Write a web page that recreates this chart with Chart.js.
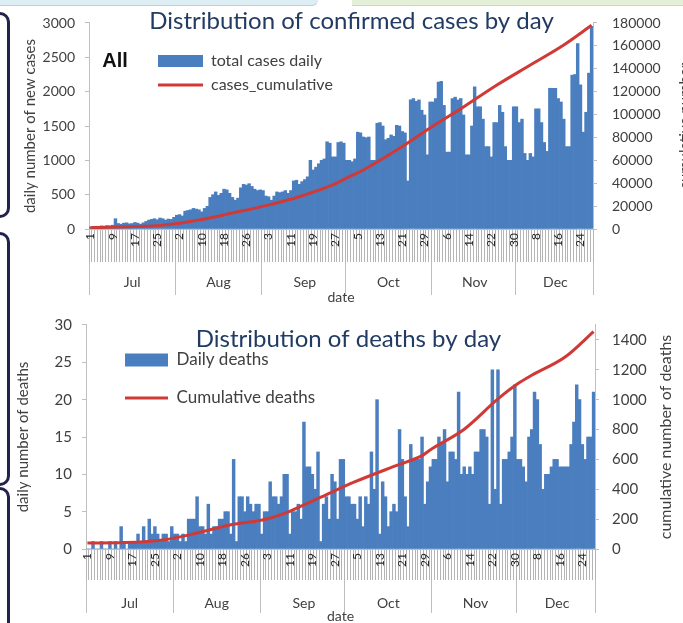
<!DOCTYPE html>
<html>
<head>
<meta charset="utf-8">
<script src="https://cdn.jsdelivr.net/npm/chart.js@4.4.0/dist/chart.umd.min.js"></script>
<style>
html, body { margin: 0; padding: 0; background: #fff; overflow: hidden; }
body { width: 683px; height: 623px; position: relative; }
.box { position: absolute; left: 0; width: 683px; }
#topBox { top: 0; height: 306px; }
#bottomBox { top: 310px; height: 315px; }
.brace { position: absolute; left: -22px; width: 26px; border: 3px solid #22234a; border-radius: 10px; }
.band { position: absolute; top: 0; height: 5px; }
</style>
</head>
<body>
<div class="band" style="left:0;width:318px;background:#dcedf3;border-bottom:1px solid #b9d3de;border-bottom-right-radius:6px"></div>
<div class="band" style="left:352px;width:331px;background:#e4f0d8;border-bottom:1px solid #c8dcb5"></div>
<div class="brace" style="top:12px;height:200px"></div>
<div class="brace" style="top:232px;height:248px"></div>
<div class="brace" style="top:487px;height:200px"></div>
<div class="box" id="topBox"><canvas id="casesChart"></canvas></div>
<div class="box" id="bottomBox"><canvas id="deathsChart"></canvas></div>
<script>
// months on the axis (data runs 1 Jul - 28 Dec)
const months = ['Jul', 'Aug', 'Sep', 'Oct', 'Nov', 'Dec'];
const monthLengths = [31, 31, 30, 31, 30, 28];

// daily new cases, one value per day
const dailyCases = [
    // Jul
    30, 35, 40, 30, 45, 40, 50, 45, 55, 150, 80, 70, 85, 90, 75, 80, 95, 85, 70, 90, 110,
    130, 140, 150, 135, 160, 150, 130, 145, 140, 170,
    // Aug
    200, 210, 190, 260, 270, 280, 300, 290, 280, 250, 300, 330, 460, 500, 540, 490, 520, 580,
    570, 520, 460, 420, 450, 600, 650, 640, 660, 620, 580, 560, 570,
    // Sep
    560, 480, 470, 420, 480, 540, 530, 540, 560, 520, 560, 700, 710, 650, 690, 720, 760,
    1000, 860, 900, 950, 1000, 1020, 1270, 1250, 1050, 1050, 1260, 1270, 1250,
    // Oct
    1000, 1000, 980, 1020, 1410, 1400, 1340, 1330, 1340, 1000, 1000, 1540, 1550, 1500,
    1300, 1320, 1370, 1350, 1510, 1500, 1420, 1400, 700, 1880, 1900, 1860, 1880, 1730, 1660, 1080, 1850,
    // Nov
    1850, 1900, 2140, 2150, 1800, 1120, 1120, 1900, 1920, 1880, 1900, 1660, 1080, 1080, 1500,
    2070, 1780, 1780, 1600, 1200, 1200, 1050, 1550, 1550, 1800, 1700, 1200, 1000, 1000, 1780,
    // Dec
    1780, 1550, 1600, 1100, 1000, 1100, 1050, 1750, 1750, 1550, 1260, 1130, 2050, 2050, 2050,
    1900, 1850, 1600, 1200, 1200, 2240, 2250, 2700, 2100, 1410, 1700, 2270, 2950
];

// cumulative cases
const cumCasesDates = ['Jul 1', 'Jul 20', 'Jul 28', 'Aug 9', 'Aug 21', 'Sep 2', 'Sep 14', 'Sep 26', 'Oct 2',
    'Oct 7', 'Oct 19', 'Oct 31', 'Nov 12', 'Nov 24', 'Dec 6', 'Dec 18', 'Dec 28'];
const cumCasesValues = [1100, 2300, 3600, 7900, 14000, 20400, 28200, 38500, 45700,
    51600, 69000, 88300, 106600, 125800, 143300, 160800, 178000];

// daily deaths
const dailyDeaths = [
    // Jul
    0, 0, 1, 0, 0, 1, 0, 0, 1, 0, 1, 0, 3, 1, 0, 1, 1, 1, 2, 1, 3, 1, 4, 2, 3, 2, 1, 2, 2, 1, 3,
    // Aug
    2, 2, 1, 2, 1, 4, 4, 4, 7, 3, 3, 2, 6, 2, 3, 3, 4, 4, 5, 5, 2, 12, 1, 7, 7, 5, 7, 6, 5, 6, 6,
    // Sep
    2, 5, 5, 9, 7, 7, 6, 7, 10, 10, 2, 5, 5, 6, 4, 17, 11, 11, 10, 8, 13, 1, 6, 7, 4, 10, 9, 4, 12, 12,
    // Oct
    7, 7, 6, 6, 4, 7, 3, 7, 6, 13, 8, 20, 2, 9, 7, 3, 5, 6, 5, 16, 12, 7, 3, 14, 12, 12, 12, 15, 6, 9, 11,
    // Nov
    12, 12, 15, 14, 16, 9, 13, 13, 12, 21, 10, 11, 10, 11, 10, 13, 13, 16, 16, 15, 6, 24, 8, 24, 6, 12, 12, 13, 15, 22,
    // Dec
    12, 12, 11, 9, 15, 16, 21, 20, 14, 8, 10, 10, 11, 12, 12, 11, 11, 11, 11, 14, 17, 22, 20, 14, 12, 15, 15, 21
];

// cumulative deaths
const cumDeathsDates = ['Jul 1', 'Jul 14', 'Jul 28', 'Aug 9', 'Aug 21', 'Sep 2', 'Sep 10', 'Sep 14', 'Sep 22',
    'Oct 4', 'Oct 19', 'Oct 28', 'Oct 31', 'Nov 12', 'Nov 24', 'Dec 1', 'Dec 6', 'Dec 18', 'Dec 28'];
const cumDeathsValues = [40, 43, 61, 107, 163, 197, 245, 279, 347,
    449, 560, 625, 665, 802, 1005, 1106, 1163, 1287, 1456];

// right axis ticks of the deaths chart
const deathsRightTicks = [0, 200, 400, 600, 800, 1000, 1200, 1400];

// category labels
const dates = [];
const monthStarts = [];
const monthMiddles = {};
months.forEach((m, i) => {
    monthStarts.push(dates.length);
    monthMiddles[dates.length + Math.floor(monthLengths[i] / 2)] = m;
    for (let d = 1; d <= monthLengths[i]; d++) dates.push(m + ' ' + d);
});

Chart.defaults.font.family = 'Lato';
Chart.defaults.color = '#404040';

const BLUE = '#4a7ebf';
const RED = '#d03a36';
const AXIS = '#bfbfbf';

const tweaks = {
    id: 'tweaks',
    afterLayout(chart, args, opts) {
        if (chart.legend && opts.legendLeft !== undefined) {
            chart.legend.left = opts.legendLeft;
            chart.legend.top = opts.legendTop;
            if (opts.itemGap !== undefined) chart.legend.options.labels.padding = opts.itemGap;
        }
    },
    afterDraw(chart, args, opts) {
        const ctx = chart.ctx;
        (opts.texts || []).forEach(t => {
            ctx.save();
            ctx.font = t.font;
            ctx.fillStyle = t.color;
            ctx.textAlign = 'center';
            ctx.textBaseline = 'middle';
            ctx.translate(t.x, t.y);
            if (t.rotate) ctx.rotate(-Math.PI / 2);
            ctx.fillText(t.text, 0, 0);
            ctx.restore();
        });
    }
};

// fixed axis width, and no extra room reserved above the top tick label
function fixWidth(w) {
    return s => { s.width = w; s.paddingTop = 0; s.paddingBottom = 0; };
}

function dateAxes(cfg) {
    return {
        x: {
            type: 'category', position: 'bottom', offset: true, weight: 0,
            grid: { offset: true, drawOnChartArea: false, color: '#b4b4b4', tickLength: cfg.dayHeight },
            border: { color: AXIS },
            ticks: {
                autoSkip: false, minRotation: 90, maxRotation: 90, padding: 4 - cfg.dayHeight,
                color: '#262626', font: { size: 12 },
                callback: (v, i) => i % 8 === 0 ? dates[i].split(' ')[1] : ''
            },
            afterFit: s => { s.height = cfg.dayHeight; }
        },
        x2: {
            type: 'category', position: 'bottom', offset: true, weight: 1,
            grid: {
                offset: true, drawOnChartArea: false, tickLength: 33,
                color: c => (c.index === undefined || monthStarts.includes(c.index)) ? AXIS : 'rgba(0,0,0,0)'
            },
            border: { display: false },
            ticks: {
                autoSkip: false, minRotation: 0, maxRotation: 0, padding: cfg.monthPad,
                color: '#404040', font: { size: 14 },
                callback: (v, i) => monthMiddles[i] || ''
            },
            title: { display: true, text: 'date', color: '#404040', font: { size: 14 }, padding: 0 },
            afterFit: s => { s.height = cfg.monthHeight; }
        }
    };
}

function legendOpts(size, pad, boxW, boxH) {
    return {
        position: 'chartArea', align: 'start',
        labels: {
            usePointStyle: true, pointStyleWidth: boxW, boxHeight: boxH, padding: pad,
            color: '#404040', font: { size: size },
            generateLabels: chart => {
                const items = Chart.defaults.plugins.legend.labels.generateLabels(chart);
                items.forEach(it => {
                    it.pointStyle = chart.data.datasets[it.datasetIndex].type === 'line' ? 'line' : 'rect';
                });
                return items.sort((a, b) => a.datasetIndex - b.datasetIndex);
            }
        }
    };
}

// confirmed cases
new Chart(document.getElementById('casesChart'), {
    type: 'bar',
    data: {
        labels: dates,
        datasets: [{
            type: 'bar', label: 'total cases daily', data: dailyCases,
            backgroundColor: BLUE, borderWidth: 0, barPercentage: 1, categoryPercentage: 1,
            yAxisID: 'y', order: 1
        }, {
            type: 'line', label: 'cases_cumulative',
            data: cumCasesDates.map((d, i) => ({ x: d, y: cumCasesValues[i] })),
            borderColor: RED, backgroundColor: RED, borderWidth: 3, pointRadius: 0,
            tension: 0.4, cubicInterpolationMode: 'monotone', fill: false,
            yAxisID: 'y1', order: 0
        }]
    },
    options: {
        responsive: true, maintainAspectRatio: false, animation: false,
        layout: { padding: { left: 20, right: 0, top: 0, bottom: 0 } },
        scales: Object.assign(dateAxes({ dayHeight: 33, monthPad: -21.4, monthHeight: 44 }), {
            y: {
                position: 'left', min: 0, max: 3000,
                ticks: { stepSize: 500, padding: 10, color: '#404040', font: { size: 14 }, callback: v => String(v) },
                grid: { drawOnChartArea: false, tickLength: 4, color: AXIS },
                border: { color: AXIS },
                title: { display: true, text: 'daily number of new cases', color: '#404040', font: { size: 15 }, padding: { top: 1, bottom: 0 } },
                afterFit: fixWidth(69)
            },
            y1: {
                position: 'right', min: 0, max: 180000,
                ticks: { stepSize: 20000, padding: 15, color: '#404040', font: { size: 14 }, callback: v => String(v) },
                grid: { drawOnChartArea: false, tickLength: 4, color: AXIS },
                border: { color: AXIS },
                afterFit: fixWidth(90)
            }
        }),
        plugins: {
            title: {
                display: true, text: 'Distribution of confirmed cases by day', color: '#213b63',
                font: { size: 24, weight: 'normal' }, padding: { top: 6.6, bottom: -12.4 }
            },
            legend: legendOpts(16, 8, 45, 12),
            tooltip: { enabled: false },
            tweaks: {
                legendLeft: 150, legendTop: 45,
                texts: [
                    { text: 'All', x: 115, y: 61, font: 'bold 20px "Liberation Sans"', color: '#111' },
                    { text: 'cumulative number', x: 685, y: 126, rotate: true, font: '15px Lato', color: '#404040' }
                ]
            }
        }
    },
    plugins: [tweaks]
});

// deaths
new Chart(document.getElementById('deathsChart'), {
    type: 'bar',
    data: {
        labels: dates,
        datasets: [{
            type: 'bar', label: 'Daily deaths', data: dailyDeaths,
            backgroundColor: BLUE, borderWidth: 0, barPercentage: 1, categoryPercentage: 1,
            yAxisID: 'y', order: 1
        }, {
            type: 'line', label: 'Cumulative deaths',
            data: cumDeathsDates.map((d, i) => ({ x: d, y: cumDeathsValues[i] })),
            borderColor: RED, backgroundColor: RED, borderWidth: 3, pointRadius: 0,
            tension: 0.4, cubicInterpolationMode: 'monotone', fill: false,
            yAxisID: 'y1', order: 0
        }]
    },
    options: {
        responsive: true, maintainAspectRatio: false, animation: false,
        layout: { padding: { left: 14, right: 0, top: 0, bottom: 0 } },
        scales: Object.assign(dateAxes({ dayHeight: 31, monthPad: -18.4, monthHeight: 45 }), {
            y: {
                position: 'left', min: 0, max: 30,
                ticks: { stepSize: 5, padding: 10, color: '#404040', font: { size: 15 } },
                grid: { drawOnChartArea: false, tickLength: 4, color: AXIS },
                border: { color: AXIS },
                title: { display: true, text: 'daily number of deaths', color: '#404040', font: { size: 15 }, padding: { top: 0, bottom: 0 } },
                afterFit: fixWidth(72)
            },
            y1: {
                position: 'right', min: 0, max: 1500,
                ticks: { padding: 13, color: '#404040', font: { size: 15 }, callback: v => String(v) },
                afterBuildTicks: s => { s.ticks = deathsRightTicks.map(v => ({ value: v })); },
                grid: { drawOnChartArea: false, tickLength: 4, color: AXIS },
                border: { color: AXIS },
                afterFit: fixWidth(88)
            }
        }),
        plugins: {
            title: {
                display: true, text: 'Distribution of deaths by day', color: '#213b63',
                font: { size: 24, weight: 'normal' }, padding: { top: 14.6, bottom: -28.4 }
            },
            legend: legendOpts(17, 8, 43, 13),
            tooltip: { enabled: false },
            tweaks: {
                legendLeft: 104, legendTop: 20.5, itemGap: 21,
                texts: [
                    { text: 'cumulative number of deaths', x: 666, y: 127, rotate: true, font: '16px Lato', color: '#404040' }
                ]
            }
        }
    },
    plugins: [tweaks]
});
</script>
</body>
</html>
